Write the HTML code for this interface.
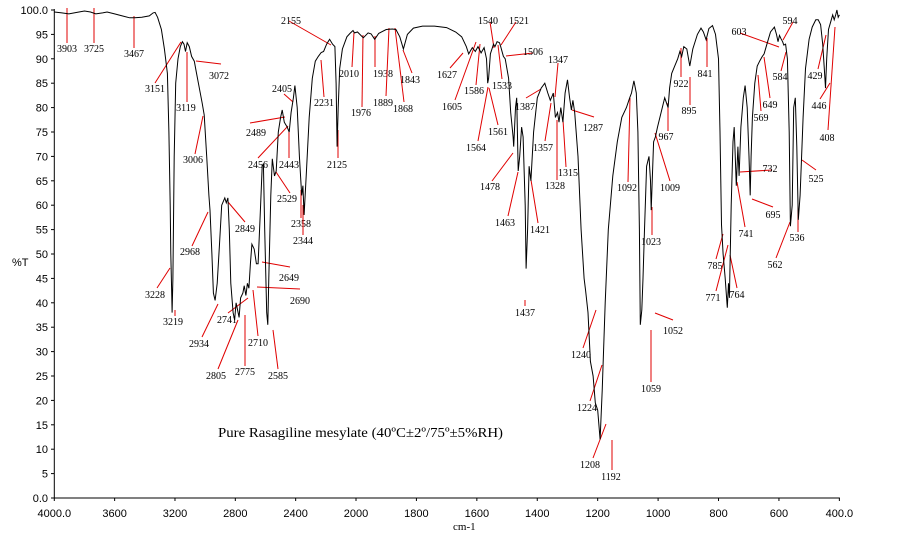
<!DOCTYPE html>
<html><head><meta charset="utf-8">
<style>
html,body{margin:0;padding:0;background:#fff;}
svg{display:block;}
.ax{font-family:"Liberation Sans",sans-serif;font-size:11px;fill:#000;}
.pk{font-family:"Liberation Serif",serif;font-size:10px;fill:#000;}
</style></head>
<body>
<svg id="chart" width="916" height="548" viewBox="0 0 916 548" xmlns="http://www.w3.org/2000/svg">
<g id="axes"></g>
<g id="labels"></g>
<path id="spec" fill="none" stroke="#000" stroke-width="1"/>
<text x="12" y="266" class="ax">%T</text>
<text x="453" y="530" class="ax" style="font-family:'Liberation Serif',serif;font-size:11px">cm-1</text>
<text x="218" y="437" textLength="285" lengthAdjust="spacingAndGlyphs" style="font-family:'Liberation Serif',serif;font-size:14px">Pure Rasagiline mesylate (40ºC±2º/75º±5%RH)</text>
</svg>
<script>
const waves=[4000,3950,3903,3850,3800,3760,3725,3680,3650,3600,3550,3500,3467,3420,3370,3345,3332,3315,3290,3270,3250,3240,3232,3228,3222,3219,3214,3205,3195,3180,3165,3151,3140,3130,3119,3105,3090,3072,3060,3045,3020,3006,2990,2975,2968,2955,2945,2934,2920,2905,2890,2870,2860,2849,2840,2830,2815,2805,2795,2785,2775,2765,2750,2741,2730,2720,2710,2700,2690,2675,2660,2649,2635,2622,2614,2605,2592,2585,2578,2565,2555,2540,2529,2515,2500,2489,2475,2456,2443,2430,2415,2405,2390,2375,2360,2352,2344,2330,2310,2290,2270,2250,2231,2215,2195,2175,2155,2140,2132,2125,2118,2108,2090,2060,2040,2020,2010,1995,1976,1960,1950,1938,1925,1900,1880,1868,1855,1843,1830,1810,1780,1740,1700,1670,1650,1635,1627,1615,1605,1596,1586,1576,1568,1564,1561,1555,1545,1540,1533,1525,1521,1512,1506,1495,1488,1480,1478,1472,1468,1463,1458,1452,1447,1440,1437,1432,1427,1421,1412,1400,1387,1375,1365,1357,1350,1347,1340,1333,1328,1322,1315,1308,1300,1293,1287,1282,1276,1265,1255,1245,1240,1232,1224,1215,1208,1200,1192,1185,1175,1165,1150,1135,1120,1105,1094,1088,1080,1072,1067,1062,1059,1054,1050,1045,1038,1030,1025,1023,1019,1015,1009,1002,990,978,967,962,955,945,935,928,922,915,905,895,885,870,858,850,841,832,820,810,800,795,790,785,778,771,767,764,758,752,748,741,736,732,726,718,712,705,699,695,692,688,680,672,664,655,649,640,628,615,608,603,598,594,588,584,578,572,566,562,556,551,546,541,536,530,525,520,512,500,490,478,470,462,455,450,446,442,436,429,422,417,412,408,404,400];
const trans=[99.6,99.4,99.2,99.5,99.8,99.6,99.2,99.4,99.6,99.2,98.8,98.4,98.4,98.5,98.8,99.4,99.5,98.5,96,92,87,75,60,50,42,38,45,70,85,90,92.5,93.5,93,91.5,93.3,92.5,90.5,89.5,87.5,85,81,78.5,70,62,59,50,42,40.5,44,52,60,61.5,60.5,61.5,55,44,38,36.5,40,38.5,37,41,42,43.5,41.5,44,43,48,52,51,48,48,58,68,68.5,55,38,35.5,45,62,69.5,66,67,75,78,79.5,77,76,75,79,82,84.5,80,70,62,64,58,66,78,86,89.5,90.5,91.3,91.5,93,94,93,92.5,85,72,80,88,92,94.5,95.2,95.8,95.3,95.5,94.3,95.3,95.1,94,95.2,96,96.1,96,94.5,92,95,96.3,96.7,96.7,96.4,95.5,94.5,92.5,91,92.3,91.5,92.5,91.2,92.3,90,85,86,91,93,92.5,93.5,93.3,92.5,90.5,90,86,79,74,72,80,82,67,70,76,74,60,47,55,68,65,75,82,84,85,83,81.5,82.5,83,78,79,77,80,77,83,85.7,82,79.5,81.5,79,70,55,45,42.5,38,28,25,19.5,18,12,22,40,55,66,73,78,80,82,83,85.5,83,75,55,35.5,38.5,45,55,68,70,65,59,66,73,74,76,79,82,80,84,87,88.5,90,91.5,90.5,92.5,92,88.5,92,95,96.3,95.5,93.9,96.2,96.8,95,90,75,56,50,45,39,44,41,60,73,76,64,72,66,76,82,84.5,80,70,62,70,78,85,88.5,89.5,90.5,91,93,95.5,96.5,95,93.5,94.8,94.2,93.5,92.8,93,90,75,55.7,60,80,82,72,57,62,70,78,88,94,96.5,98,98,97,93,88,84,90,96,97.5,99,98,99,100,98.5,99];
const xTicks=[4000,3600,3200,2800,2400,2000,1800,1600,1400,1200,1000,800,600,400];
const xTickLabels=["4000.0","3600","3200","2800","2400","2000","1800","1600","1400","1200","1000","800","600","400.0"];
const yTicks=[100,95,90,85,80,75,70,65,60,55,50,45,40,35,30,25,20,15,10,5,0];
const yTickLabels=["100.0","95","90","85","80","75","70","65","60","55","50","45","40","35","30","25","20","15","10","5","0.0"];

function xS(w){return w>=2000?54.3+(4000-w)*0.15085:356+(2000-w)*0.3021;}
function yS(t){return 498-t*4.88;}
const NS="http://www.w3.org/2000/svg";
const axes=document.getElementById('axes');
function mk(tag,attrs,parent,txt){const e=document.createElementNS(NS,tag);for(const k in attrs)e.setAttribute(k,attrs[k]);if(txt!==undefined)e.textContent=txt;parent.appendChild(e);return e;}

let l=mk('line',{x1:54.3,y1:yS(100)-1,x2:54.3,y2:yS(0),stroke:'#000'},axes);


l=mk('line',{x1:54.3,y1:yS(0),x2:xS(400)+0.5,y2:yS(0),stroke:'#000'},axes);


yTicks.forEach((v,i)=>{
  const y=yS(v);
  const t=mk('line',{x1:51,y1:y,x2:54.3,y2:y,stroke:'#000'},axes);
  
  
  const tx=mk('text',{x:48,y:y+4,'text-anchor':'end',class:'ax'},axes,yTickLabels[i]);
  
  
});
xTicks.forEach((v,i)=>{
  const x=xS(v);
  const t=mk('line',{x1:x,y1:yS(0),x2:x,y2:yS(0)+3,stroke:'#000'},axes);
  
  
  const tx=mk('text',{x:x,y:517,'text-anchor':'middle',class:'ax'},axes,xTickLabels[i]);
  
  
});
let d='';
waves.forEach((w,i)=>{d+=(i?'L':'M')+xS(w).toFixed(1)+' '+yS(trans[i]).toFixed(1);});
document.getElementById('spec').setAttribute('d',d);

const peaks=[
["3903",67,52,67,8,67,43],["3725",94,52,94,8,94,43],["3467",134,57,134,16,134,48],
["3151",155,92,181,42,155,83],["3119",186,111,187,52,187,102],["3072",219,79,196,61,221,64],
["3006",193,163,203,116,195,154],["2968",190,255,208,212,192,246],["2849",245,232,228,202,245,222],
["2405",282,92,293,102,284,94],["2489",256,136,285,117,250,123],["2456",258,168,288,126,258,158],
["2443",289,168,289,130,289,158],["2529",287,202,276,172,290,193],["2358",301,227,301,190,301,218],
["2344",303,244,303,205,303,235],["2155",291,24,289,21,331,45],["2231",324,106,321,60,324,97],
["2125",337,168,338,130,338,158],["2010",349,77,354,32,352,67],["1976",361,116,363,35,362,107],
["1938",383,77,375,36,375,67],["1889",383,106,389,28,386,96],["1868",403,112,395,28,404,102],
["1843",410,83,403,50,412,73],["1627",447,78,463,53,450,68],["1605",452,110,476,42,455,100],
["1586",474,94,480,44,476,85],["1564",476,151,488,87,478,141],["1561",498,135,489,88,498,125],
["1540",488,24,490,22,494,48],["1533",502,89,498,45,502,79],["1521",519,24,516,22,501,45],
["1506",533,55,506,56,533,53],["1478",490,190,513,153,492,181],["1463",505,226,518,172,508,216],
["1421",540,233,531,180,538,223],["1387",525,110,541,89,526,98],["1347",558,63,558,63,555,97],
["1357",543,151,551,103,545,141],["1328",555,189,557,120,557,180],["1315",568,176,563,120,566,167],
["1287",593,131,572,110,594,117],["1092",627,191,630,98,628,182],["1009",670,191,655,133,670,181],
["1023",651,245,652,207,652,235],["967",666,140,668,103,668,131],["922",681,87,681,48,681,77],
["895",689,114,690,77,690,105],["841",705,77,707,38,707,67],["785",715,269,723,234,716,259],
["771",713,301,728,245,716,291],["764",737,298,730,255,737,288],["741",746,237,737,182,745,227],
["732",770,172,740,172,772,170],["695",773,218,752,199,773,207],["603",739,35,740,33,779,47],
["594",790,24,793,22,783,40],["584",780,80,786,52,781,71],["649",770,108,764,57,770,98],
["569",761,121,758,75,761,111],["562",775,268,790,222,776,258],["536",797,241,798,203,798,232],
["525",816,182,802,160,816,170],["429",815,79,826,35,818,69],["446",819,109,830,83,820,99],
["408",827,141,835,27,828,130],
["3228",155,298,170,268,157,288],["3219",173,325,175,310,175,316],["2934",199,347,218,304,202,337],
["2741",227,323,248,298,228,313],["2805",216,379,238,320,218,369],["2775",245,375,245,315,245,366],
["2710",258,346,253,290,258,336],["2585",278,379,273,330,278,369],["2690",300,304,257,287,300,289],
["2649",289,281,262,262,290,267],["1437",525,316,525,300,525,306],["1240",581,358,596,310,583,348],
["1224",587,411,602,365,590,401],["1208",590,468,606,424,593,458],["1192",611,480,612,440,612,470],
["1059",651,392,651,330,651,382],["1052",673,334,655,313,673,320]
];
const lg=document.getElementById('labels');
peaks.forEach(p=>{
  const ln=mk('line',{x1:p[3],y1:p[4],x2:p[5],y2:p[6],stroke:'#e00000','stroke-width':1},lg);
  
  
  const t=mk('text',{x:p[1],y:p[2],'text-anchor':'middle',class:'pk'},lg,p[0]);
  
  
});
</script>
</body></html>
